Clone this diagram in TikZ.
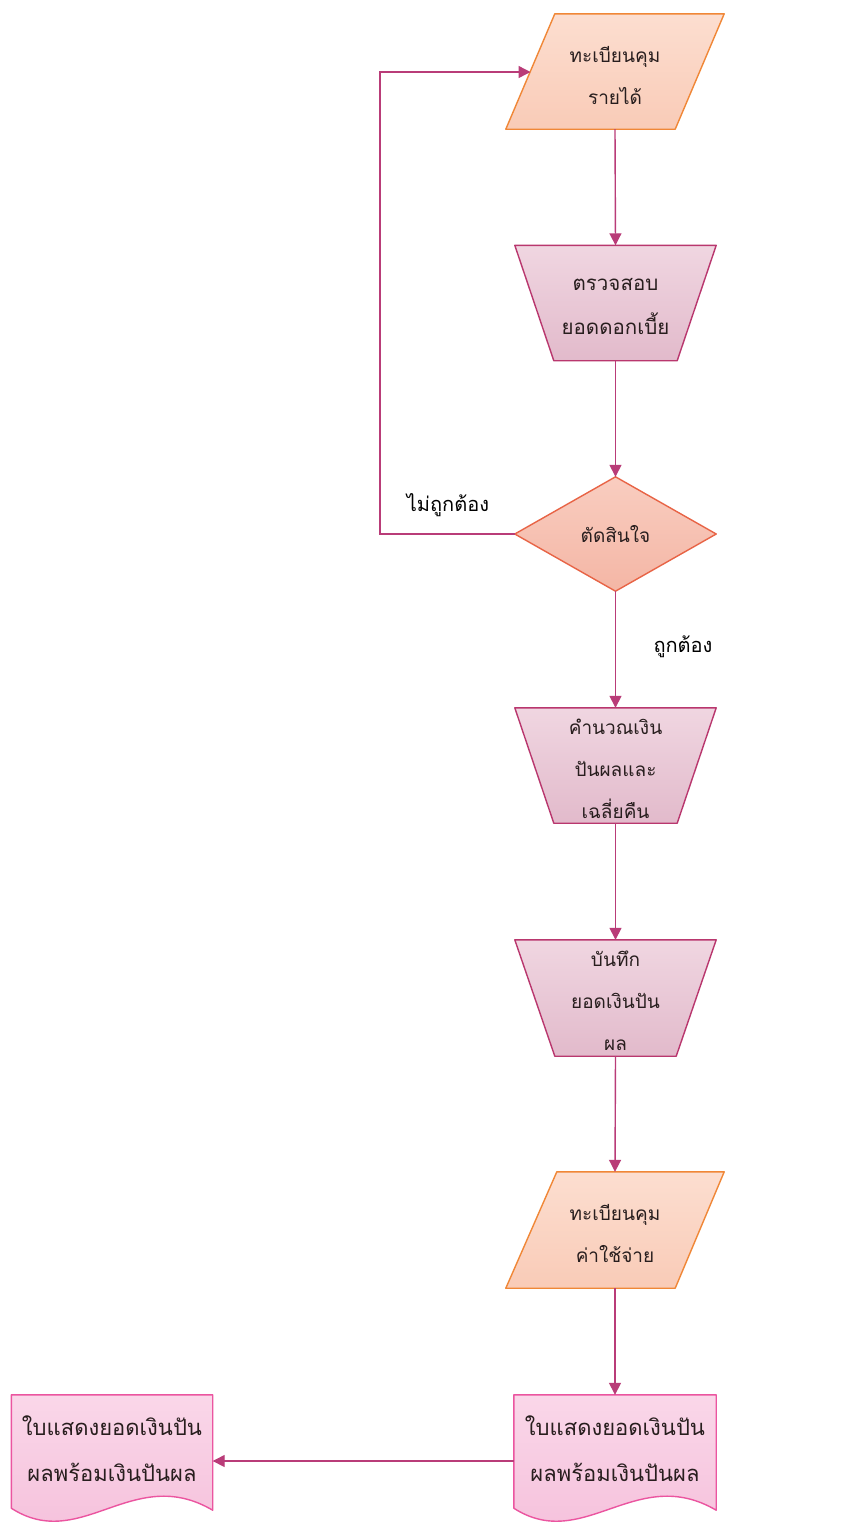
\documentclass[tikz,border=0pt]{standalone}
\usepackage{fontspec}
\newfontfamily\thaifont[Script=Thai]{Loma}
\usetikzlibrary{arrows.meta,calc}
\pgfdeclarelayer{bg}
\pgfdeclarelayer{paper}
\pgfsetlayers{paper,bg,main}
\definecolor{paraFill}{RGB}{249,203,183}
\definecolor{paraTop}{RGB}{252,222,208}
\definecolor{paraLine}{RGB}{240,135,55}
\definecolor{trapFill}{RGB}{226,186,203}
\definecolor{trapTop}{RGB}{240,214,225}
\definecolor{trapLine}{RGB}{185,55,110}
\definecolor{diaFill}{RGB}{244,182,165}
\definecolor{diaTop}{RGB}{249,205,192}
\definecolor{diaLine}{RGB}{232,100,70}
\definecolor{docFill}{RGB}{245,190,218}
\definecolor{docTop}{RGB}{250,215,233}
\definecolor{docLine}{RGB}{235,85,160}
\definecolor{arrowCol}{RGB}{185,60,120}
\definecolor{txt}{RGB}{40,30,30}
\tikzset{
  box/.style={draw=none, inner sep=0pt, align=center, text=txt,
    font=\thaifont\fontsize{19}{42}\selectfont},
  bigbox/.style={box, font=\thaifont\fontsize{20.5}{44}\selectfont},
  docbox/.style={box, font=\thaifont\fontsize{22}{46}\selectfont},
  paraShape/.style={draw=paraLine, line width=1.4pt, top color=paraTop, bottom color=paraFill, line join=round},
  trapShape/.style={draw=trapLine, line width=1.4pt, top color=trapTop, bottom color=trapFill, line join=round},
  diaShape/.style={draw=diaLine, line width=1.4pt, top color=diaTop, bottom color=diaFill, line join=round},
  docShape/.style={draw=docLine, line width=1.4pt, top color=docTop, bottom color=docFill, line join=round},
  flow/.style={draw=arrowCol, line width=1.4pt, -{Triangle[width=12pt,length=12pt]}},
  lbl/.style={inner sep=0pt, text=black, font=\thaifont\fontsize{20}{24}\selectfont}
}
\begin{document}
\begin{tikzpicture}[x=1pt,y=-1pt]
\useasboundingbox (0,0) rectangle (853,1524);
\begin{pgfonlayer}{paper}
\fill[white] (0,0) rectangle (853,1524);
\end{pgfonlayer}

% nodes
\node[box, minimum width=218pt, minimum height=115pt] (p1) at (615,71.5) {};
\node[box] (p1txt) at (615,75) {ทะเบียนคุม\\รายได้};
\node[box, minimum width=201pt, minimum height=115pt] (t1) at (615.5,303) {};
\node[bigbox] (t1txt) at (615.5,306) {ตรวจสอบ\\ยอดดอกเบี้ย};
\node[box, minimum width=201pt, minimum height=114pt] (d1) at (615.5,534) {ตัดสินใจ};
\node[box, minimum width=201pt, minimum height=115pt] (t2) at (615.5,765.5) {};
\node[box] (t2txt) at (615.5,769) {คำนวณเงิน\\ปันผลและ\\เฉลี่ยคืน};
\node[box, minimum width=201pt, minimum height=116pt] (t3) at (615.5,998) {};
\node[box] (t3txt) at (615.5,1001) {บันทึก\\ยอดเงินปัน\\ผล};
\node[box, minimum width=218pt, minimum height=116pt] (p2) at (615,1230) {};
\node[box] (p2txt) at (615,1233) {ทะเบียนคุม\\ค่าใช้จ่าย};
\node[box, minimum width=202pt, minimum height=113pt] (doc1) at (615,1451.5) {};
\node[docbox] (doc1txt) at (615,1449) {ใบแสดงยอดเงินปัน\\ผลพร้อมเงินปันผล};
\node[box, minimum width=201pt, minimum height=113pt] (doc2) at (112,1451.5) {};
\node[docbox] (doc2txt) at (112,1449) {ใบแสดงยอดเงินปัน\\ผลพร้อมเงินปันผล};

% shapes
\begin{pgfonlayer}{bg}
\draw[paraShape] ($(p1.north west)+(49,0)$) -- (p1.north east) -- ($(p1.south east)+(-49,0)$) -- (p1.south west) -- cycle;
\draw[paraShape] ($(p2.north west)+(51,0)$) -- (p2.north east) -- ($(p2.south east)+(-49,0)$) -- (p2.south west) -- cycle;
\draw[trapShape] (t1.north west) -- (t1.north east) -- ($(t1.south east)+(-39,0)$) -- ($(t1.south west)+(39,0)$) -- cycle;
\draw[trapShape] (t2.north west) -- (t2.north east) -- ($(t2.south east)+(-39,0)$) -- ($(t2.south west)+(39,0)$) -- cycle;
\draw[trapShape] (t3.north west) -- (t3.north east) -- ($(t3.south east)+(-40,0)$) -- ($(t3.south west)+(40,0)$) -- cycle;
\draw[diaShape] (d1.north) -- (d1.east) -- (d1.south) -- (d1.west) -- cycle;
\foreach \d in {doc1,doc2}{
  \draw[docShape] (\d.south west) -- (\d.north west) -- (\d.north east) -- ($(\d.south east)+(0,2)$)
    .. controls ($(\d.south east)+(-80,-45)$) and ($(\d.south west)+(70,45)$) .. (\d.south west) -- cycle;
}
\end{pgfonlayer}

% connectors
\coordinate (loopTop) at (380,72);
\coordinate (loopBot) at (380,534);
\coordinate (p1in) at (530.5,72);
\draw[flow] (p1.south) -- (t1.north);
\draw[flow] (t1.south) -- (d1.north);
\draw[flow] (d1.west) -- (loopBot) -- (loopTop) -- (p1in);
\draw[flow] (d1.south) -- (t2.north);
\draw[flow] (t2.south) -- (t3.north);
\draw[flow] (t3.south) -- (p2.north);
\draw[flow] (p2.south) -- (doc1.north);
\draw[flow] (doc1.west |- 0,1461) -- (doc2.east |- 0,1461);

% labels
\node[lbl] (no) at (448,505) {ไม่ถูกต้อง};
\node[lbl] (yes) at (683,647) {ถูกต้อง};
\end{tikzpicture}
\end{document}
